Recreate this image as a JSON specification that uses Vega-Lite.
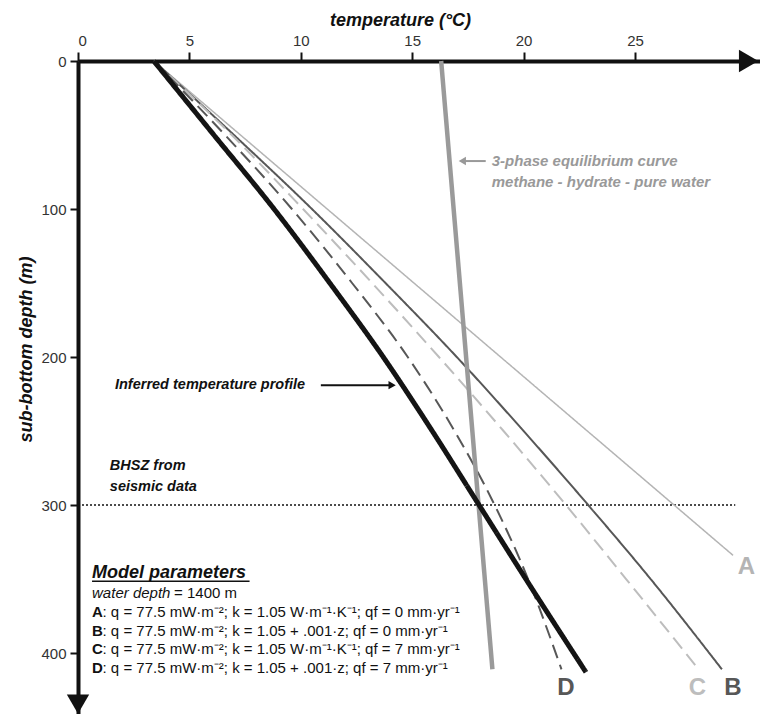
{
  "$schema": "https://vega.github.io/schema/vega-lite/v6.json",
  "width": 682,
  "height": 653,
  "autosize": {"type": "none"},
  "padding": {"left": 78, "top": 61, "right": 0, "bottom": 0},
  "background": "white",
  "config": {"view": {"stroke": null}, "font": "Liberation Sans", "text": {"font": "Liberation Sans"}},
  "datasets": {
    "curves": [
      {"series": "A", "temp": 3.4, "depth": 0},
      {"series": "A", "temp": 16.4, "depth": 167},
      {"series": "A", "temp": 29.4, "depth": 334},
      {"series": "B", "temp": 3.4, "depth": 0},
      {"series": "B", "temp": 7.0, "depth": 50},
      {"series": "B", "temp": 10.5, "depth": 100},
      {"series": "B", "temp": 13.8, "depth": 150},
      {"series": "B", "temp": 17.0, "depth": 200},
      {"series": "B", "temp": 20.0, "depth": 250},
      {"series": "B", "temp": 22.9, "depth": 300},
      {"series": "B", "temp": 25.7, "depth": 350},
      {"series": "B", "temp": 28.9, "depth": 411},
      {"series": "C", "temp": 3.4, "depth": 0},
      {"series": "C", "temp": 6.9, "depth": 50},
      {"series": "C", "temp": 10.1, "depth": 100},
      {"series": "C", "temp": 13.2, "depth": 150},
      {"series": "C", "temp": 16.2, "depth": 200},
      {"series": "C", "temp": 19.1, "depth": 250},
      {"series": "C", "temp": 21.9, "depth": 300},
      {"series": "C", "temp": 24.6, "depth": 350},
      {"series": "C", "temp": 27.8, "depth": 410},
      {"series": "D", "temp": 3.4, "depth": 0},
      {"series": "D", "temp": 6.6, "depth": 50},
      {"series": "D", "temp": 9.6, "depth": 100},
      {"series": "D", "temp": 12.3, "depth": 150},
      {"series": "D", "temp": 14.8, "depth": 200},
      {"series": "D", "temp": 16.9, "depth": 250},
      {"series": "D", "temp": 18.7, "depth": 300},
      {"series": "D", "temp": 20.2, "depth": 350},
      {"series": "D", "temp": 21.7, "depth": 411},
      {"series": "E", "temp": 16.3, "depth": 0},
      {"series": "E", "temp": 18.6, "depth": 411},
      {"series": "I", "temp": 3.4, "depth": 0},
      {"series": "I", "temp": 6.1, "depth": 50},
      {"series": "I", "temp": 8.8, "depth": 100},
      {"series": "I", "temp": 11.3, "depth": 150},
      {"series": "I", "temp": 13.7, "depth": 200},
      {"series": "I", "temp": 15.9, "depth": 250},
      {"series": "I", "temp": 18.0, "depth": 300},
      {"series": "I", "temp": 20.1, "depth": 350},
      {"series": "I", "temp": 22.8, "depth": 413}
    ],
    "letters": [
      {"series": "A", "text": "A", "temp": 30.0, "depth": 342},
      {"series": "B", "text": "B", "temp": 29.4, "depth": 423.6},
      {"series": "C", "text": "C", "temp": 27.8, "depth": 423.6},
      {"series": "D", "text": "D", "temp": 21.9, "depth": 423.6}
    ],
    "legendRows": [
      {"key": "A", "rest": ": q = 77.5 mW·m⁻²; k = 1.05 W·m⁻¹·K⁻¹; qf = 0 mm·yr⁻¹", "temp": 0.63, "depth": 372.3},
      {"key": "B", "rest": ": q = 77.5 mW·m⁻²; k = 1.05 + .001·z; qf = 0 mm·yr⁻¹", "temp": 0.63, "depth": 385.1},
      {"key": "C", "rest": ": q = 77.5 mW·m⁻²; k = 1.05 W·m⁻¹·K⁻¹; qf = 7 mm·yr⁻¹", "temp": 0.63, "depth": 397.6},
      {"key": "D", "rest": ": q = 77.5 mW·m⁻²; k = 1.05 + .001·z; qf = 7 mm·yr⁻¹", "temp": 0.63, "depth": 410.1}
    ],
    "blackNotes": [
      {"text": "Inferred temperature profile", "temp": 1.66, "depth": 219},
      {"text": "BHSZ from", "temp": 1.43, "depth": 273.6},
      {"text": "seismic data", "temp": 1.43, "depth": 287.8}
    ],
    "grayNotes": [
      {"text": "3-phase equilibrium curve", "temp": 18.57, "depth": 67.6},
      {"text": "methane - hydrate - pure water", "temp": 18.57, "depth": 81.8}
    ]
  },
  "layer": [
    {
      "data": {"values": [{"t0": 0, "t1": 29.5, "d": 300}]},
      "mark": {"type": "rule", "strokeDash": [2, 2], "strokeWidth": 1.5, "color": "#111"},
      "encoding": {
        "x": {"field": "t0", "type": "quantitative"},
        "x2": {"field": "t1"},
        "y": {"field": "d", "type": "quantitative"}
      }
    },
    {
      "data": {"name": "curves"},
      "mark": {"type": "line", "strokeCap": "butt", "interpolate": "monotone"},
      "encoding": {
        "x": {
          "field": "temp", "type": "quantitative",
          "scale": {"domain": [0, 30.61], "nice": false, "zero": false},
          "axis": {
            "orient": "top", "values": [0, 5, 10, 15, 20, 25], "grid": false,
            "domainWidth": 4, "domainColor": "#111", "tickColor": "#111", "tickWidth": 2, "tickSize": 9,
            "labelFontSize": 15, "labelColor": "#333", "labelPadding": 4, "labelFont": "Liberation Sans",
            "title": "temperature (°C)", "titleFont": "Liberation Sans", "titleFontSize": 18, "titleFontStyle": "italic", "titleFontWeight": "bold", "titleColor": "#111",
            "titleX": 322, "titleY": -41, "titleAnchor": null, "titleAlign": "center", "titleBaseline": "middle"
          }
        },
        "y": {
          "field": "depth", "type": "quantitative",
          "scale": {"domain": [0, 441.2], "nice": false, "zero": false, "reverse": true},
          "axis": {
            "orient": "left", "values": [0, 100, 200, 300, 400], "grid": false,
            "domainWidth": 4, "domainColor": "#111", "tickColor": "#111", "tickWidth": 2, "tickSize": 8,
            "labelFontSize": 15, "labelColor": "#333", "labelPadding": 4, "labelFont": "Liberation Sans",
            "title": "sub-bottom depth (m)", "titleFont": "Liberation Sans", "titleFontSize": 18, "titleFontStyle": "italic", "titleFontWeight": "bold", "titleColor": "#111",
            "titleX": -52, "titleY": 288, "titleAngle": -90, "titleAlign": "center", "titleBaseline": "middle"
          }
        },
        "order": {"field": "depth", "type": "quantitative"},
        "color": {"field": "series", "type": "nominal", "scale": {"domain": ["A", "B", "C", "D", "E", "I"], "range": ["#b4b4b4", "#575757", "#bdbdbd", "#575757", "#9a9a9a", "#141414"]}, "legend": null},
        "strokeWidth": {"field": "series", "type": "ordinal", "scale": {"type": "ordinal", "domain": ["A", "B", "C", "D", "E", "I"], "range": [1.5, 2, 2, 2, 4.5, 5]}, "legend": null},
        "strokeDash": {"field": "series", "type": "nominal", "scale": {"domain": ["A", "B", "C", "D", "E", "I"], "range": [[1, 0], [1, 0], [14, 7], [14, 7], [1, 0], [1, 0]]}, "legend": null}
      }
    },
    {
      "data": {"values": [{"t": 30.1, "d": 0, "s": "right"}]},
      "mark": {"type": "point", "shape": "triangle-right", "filled": true, "opacity": 1, "color": "#111", "size": 500},
      "encoding": {"x": {"field": "t", "type": "quantitative"}, "y": {"field": "d", "type": "quantitative"}}
    },
    {
      "data": {"values": [{"t": 0, "d": 434.5}]},
      "mark": {"type": "point", "shape": "triangle-down", "filled": true, "opacity": 1, "color": "#111", "size": 500},
      "encoding": {"x": {"field": "t", "type": "quantitative"}, "y": {"field": "d", "type": "quantitative"}}
    },
    {
      "data": {"name": "letters"},
      "mark": {"type": "text", "fontSize": 24, "fontWeight": "bold", "align": "center", "baseline": "middle", "font": "Liberation Sans"},
      "encoding": {
        "x": {"field": "temp", "type": "quantitative"},
        "y": {"field": "depth", "type": "quantitative"},
        "text": {"field": "text"},
        "color": {"field": "series", "type": "nominal", "legend": null}
      }
    },
    {
      "data": {"name": "grayNotes"},
      "mark": {"type": "text", "fontSize": 15, "fontWeight": "bold", "fontStyle": "italic", "align": "left", "baseline": "middle", "color": "#999999", "font": "Liberation Sans"},
      "encoding": {
        "x": {"field": "temp", "type": "quantitative"},
        "y": {"field": "depth", "type": "quantitative"},
        "text": {"field": "text"}
      }
    },
    {
      "data": {"values": [{"t0": 17.3, "t1": 18.3, "d": 67.6}]},
      "mark": {"type": "rule", "strokeWidth": 2, "color": "#999999"},
      "encoding": {"x": {"field": "t0", "type": "quantitative"}, "x2": {"field": "t1"}, "y": {"field": "d", "type": "quantitative"}}
    },
    {
      "data": {"values": [{"t": 17.25, "d": 67.6}]},
      "mark": {"type": "point", "shape": "triangle-left", "filled": true, "opacity": 1, "color": "#999999", "size": 70},
      "encoding": {"x": {"field": "t", "type": "quantitative"}, "y": {"field": "d", "type": "quantitative"}}
    },
    {
      "data": {"name": "blackNotes"},
      "mark": {"type": "text", "fontSize": 14.5, "fontWeight": "bold", "fontStyle": "italic", "align": "left", "baseline": "middle", "color": "#111", "font": "Liberation Sans"},
      "encoding": {
        "x": {"field": "temp", "type": "quantitative"},
        "y": {"field": "depth", "type": "quantitative"},
        "text": {"field": "text"}
      }
    },
    {
      "data": {"values": [{"t0": 10.9, "t1": 14.0, "d": 219}]},
      "mark": {"type": "rule", "strokeWidth": 2, "color": "#111"},
      "encoding": {"x": {"field": "t0", "type": "quantitative"}, "x2": {"field": "t1"}, "y": {"field": "d", "type": "quantitative"}}
    },
    {
      "data": {"values": [{"t": 14.1, "d": 219}]},
      "mark": {"type": "point", "shape": "triangle-right", "filled": true, "opacity": 1, "color": "#111", "size": 70},
      "encoding": {"x": {"field": "t", "type": "quantitative"}, "y": {"field": "d", "type": "quantitative"}}
    },
    {
      "data": {"values": [{"text": "Model parameters", "temp": 0.63, "depth": 349.3}]},
      "mark": {"type": "text", "fontSize": 18, "fontWeight": "bold", "fontStyle": "italic", "align": "left", "baseline": "alphabetic", "color": "#111", "font": "Liberation Sans"},
      "encoding": {
        "x": {"field": "temp", "type": "quantitative"},
        "y": {"field": "depth", "type": "quantitative"},
        "text": {"field": "text"}
      }
    },
    {
      "data": {"values": [{"t0": 0.63, "t1": 7.7, "d": 351.5}]},
      "mark": {"type": "rule", "strokeWidth": 1.5, "color": "#111"},
      "encoding": {"x": {"field": "t0", "type": "quantitative"}, "x2": {"field": "t1"}, "y": {"field": "d", "type": "quantitative"}}
    },
    {
      "data": {"values": [{"text": "water depth", "temp": 0.63, "depth": 359.5}]},
      "mark": {"type": "text", "fontSize": 15, "fontStyle": "italic", "align": "left", "baseline": "middle", "color": "#111", "font": "Liberation Sans"},
      "encoding": {
        "x": {"field": "temp", "type": "quantitative"},
        "y": {"field": "depth", "type": "quantitative"},
        "text": {"field": "text"}
      }
    },
    {
      "data": {"values": [{"text": "= 1400 m", "temp": 0.63, "depth": 359.5}]},
      "mark": {"type": "text", "fontSize": 15, "align": "left", "baseline": "middle", "color": "#111", "dx": 82, "font": "Liberation Sans"},
      "encoding": {
        "x": {"field": "temp", "type": "quantitative"},
        "y": {"field": "depth", "type": "quantitative"},
        "text": {"field": "text"}
      }
    },
    {
      "data": {"name": "legendRows"},
      "mark": {"type": "text", "fontSize": 15, "fontWeight": "bold", "align": "left", "baseline": "middle", "color": "#111", "font": "Liberation Sans"},
      "encoding": {
        "x": {"field": "temp", "type": "quantitative"},
        "y": {"field": "depth", "type": "quantitative"},
        "text": {"field": "key"}
      }
    },
    {
      "data": {"name": "legendRows"},
      "mark": {"type": "text", "fontSize": 15, "align": "left", "baseline": "middle", "color": "#111", "dx": 10.5, "font": "Liberation Sans"},
      "encoding": {
        "x": {"field": "temp", "type": "quantitative"},
        "y": {"field": "depth", "type": "quantitative"},
        "text": {"field": "rest"}
      }
    }
  ]
}
